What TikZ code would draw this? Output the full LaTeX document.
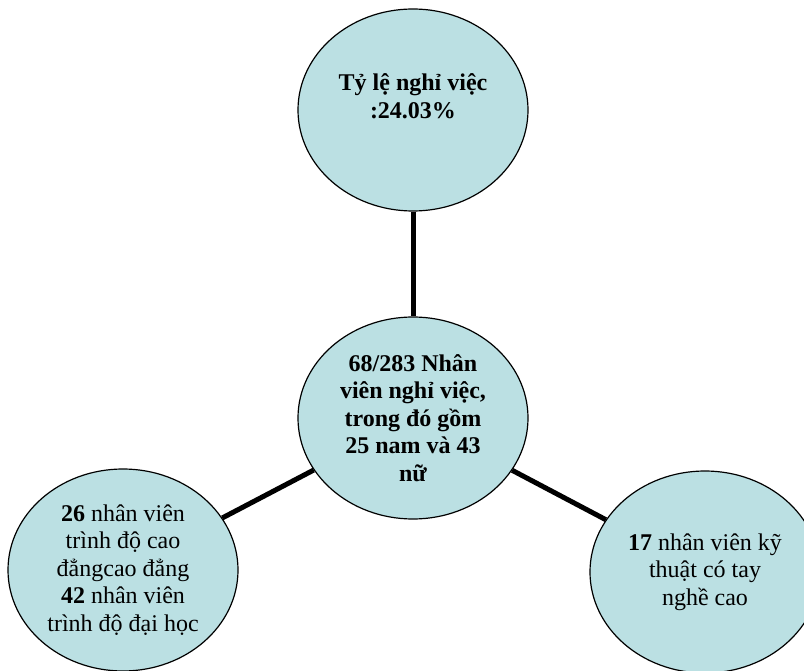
\documentclass[tikz,border=0pt]{standalone}
\usepackage{fontspec}
\setmainfont{Liberation Serif}
\usetikzlibrary{shapes.geometric}
\definecolor{bubblefill}{RGB}{187,224,227}
\tikzset{
  bubble/.style={ellipse, draw=black, line width=1.2pt, fill=bubblefill,
    minimum width=230pt, minimum height=202pt, inner sep=0pt, align=center,
    font=\fontsize{24}{27.5}\selectfont},
  bubbletext/.style={align=center, inner sep=0pt, font=\fontsize{24}{27.5}\selectfont\bfseries},
  spoke/.style={line width=5pt}
}
\begin{document}
\begin{tikzpicture}[x=1pt,y=-1pt]
\useasboundingbox (0,0) rectangle (804,671);
% bubbles
\node[bubble] (rate) at (413,110) {};
\node[bubbletext] (rateText) at ([yshift=14pt]rate.center) {Tỷ lệ nghỉ việc\\:24.03\%};
\node[bubble, font=\fontsize{24}{27.5}\selectfont\bfseries] (hub) at (413,418)
  {68/283 Nhân\\viên nghỉ việc,\\trong đó gồm\\25 nam và 43\\nữ};
\node[bubble] (degree) at (123,570)
  {\textbf{26} nhân viên\\trình độ cao\\đẳngcao đẳng\\\textbf{42} nhân viên\\trình độ đại học};
\node[bubble] (skill) at (705,572)
  {\textbf{17} nhân viên kỹ\\thuật có tay\\nghề cao};
% spokes
\draw[spoke] (rate) -- (hub);
\draw[spoke] (hub) -- (degree);
\draw[spoke] (hub) -- (skill);
\end{tikzpicture}
\end{document}
